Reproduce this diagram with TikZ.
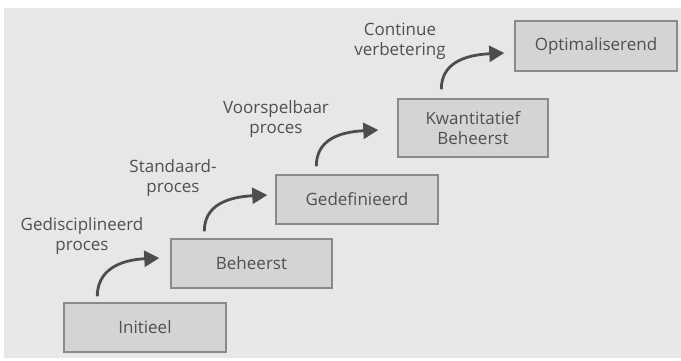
\documentclass[tikz,border=0pt]{standalone}
\usepackage{fontspec}
\setmainfont{Open Sans}
\usetikzlibrary{arrows.meta,calc}
\definecolor{panel}{HTML}{E6E7E8}
\definecolor{boxfill}{HTML}{D4D4D5}
\definecolor{boxline}{HTML}{8A8A8B}
\definecolor{ink}{HTML}{4F5052}
\definecolor{arrowink}{HTML}{4D4D4F}
\begin{document}
\begin{tikzpicture}[x=1pt,y=-1pt,
  level/.style={draw=boxline,line width=1.4pt,fill=boxfill,text=ink,
    align=center,inner sep=0pt,minimum width=162pt,minimum height=49pt,
    font=\fontsize{17}{20}\selectfont},
  stage/.style={text=ink,align=center,inner sep=0pt,
    font=\fontsize{17}{20}\selectfont},
  climb/.style={draw=arrowink,line width=2.8pt,
    -{Triangle[length=15pt,width=16pt]}}]
  % backdrop
  \useasboundingbox (0,0) rectangle (681,361);
  \fill[panel] (4,8) rectangle (681,358);

  % maturity levels
  \node[level] (init)  at (145,327.5) {Initieel};
  \node[level,minimum width=161pt] (beh) at (251.5,263.5) {Beheerst};
  \node[level] (gedef) at (357,199.5) {Gedefinieerd};
  \node[level,minimum width=150pt,minimum height=58pt] (kwant) at (473,128) {Kwantitatief\\Beheerst};
  \node[level,minimum height=50pt] (optim) at (596,46) {Optimaliserend};

  % step labels
  \node[stage] (l1) at (82,236) {Gedisciplineerd\\proces};
  \node[stage] (l2) at (173,178) {Standaard-\\proces};
  \node[stage] (l3) at (276,119) {Voorspelbaar\\proces};
  \node[stage] (l4) at (400,41) {Continue\\verbetering};

  % arrow end points
  \coordinate (s1) at ($(init.north west)+(34,-6)$);
  \coordinate (e1) at ($(beh.west)+(-11,-5.5)$);
  \coordinate (s2) at ($(beh.north west)+(34,-7)$);
  \coordinate (e2) at ($(gedef.west)+(-8,-4.5)$);
  \coordinate (s3) at ($(gedef.north west)+(41,-8)$);
  \coordinate (e3) at ($(kwant.west)+(-19,2)$);
  \coordinate (s4) at ($(kwant.north west)+(44,-9)$);
  \coordinate (e4) at ($(optim.west)+(-10,7)$);

  % curved step arrows
  \foreach \s/\e in {s1/e1,s2/e2,s3/e3,s4/e4}
    \draw[climb] (\s) .. controls ($(\s)+(0,-26)$) and ($(\e)+(-40,2)$) .. (\e);
\end{tikzpicture}
\end{document}
